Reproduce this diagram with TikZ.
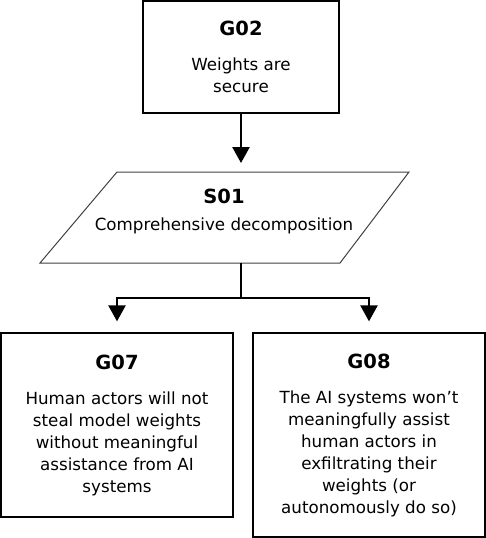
\documentclass[tikz,border=0pt]{standalone}
\usepackage{fontspec}
\setmainfont{DejaVu Sans}
\usetikzlibrary{arrows.meta}
\tikzset{
  goalbox/.style={draw=black, line width=1.3pt, align=center, inner sep=0pt,
    font=\fontsize{16.7}{22}\selectfont},
  conn/.style={draw=black, line width=2.5pt},
  arr/.style={conn, -{Triangle[length=16pt,width=17pt]}},
  strat/.style={draw=black!75, line width=1pt},
}
\newcommand{\gtitle}[1]{{\fontsize{19.5}{22}\selectfont\bfseries #1}}
\begin{document}
\begin{tikzpicture}[x=1pt,y=-1pt]
\useasboundingbox (0,0) rectangle (486,538);
\node[goalbox, minimum width=196pt, minimum height=112pt] (g02) at (241,57)
  {\gtitle{G02}\\[13pt]Weights are\\secure};
\node[align=center, inner sep=0pt, font=\fontsize{16.7}{22}\selectfont] (s01) at (224,211)
  {\gtitle{S01}\\[5pt]Comprehensive decomposition};
\draw[strat] (117,172) coordinate (pa) -- (409,172) coordinate (pb)
  -- (340,263) coordinate (pc) -- (40,263) coordinate (pd) -- cycle;
\node[goalbox, minimum width=232pt, minimum height=184pt] (g07) at (117,425)
  {\gtitle{G07}\\[13pt]Human actors will not\\steal model weights\\without meaningful\\assistance from AI\\systems};
\node[goalbox, minimum width=232pt, minimum height=204pt] (g08) at (369,435)
  {\gtitle{G08}\\[13pt]The AI systems won’t\\meaningfully assist\\human actors in\\exfiltrating their\\weights (or\\autonomously do so)};
\coordinate (stop) at (241,172);
\coordinate (sbot) at (241,263);
\coordinate (split) at (241,298);
\draw[arr, shorten >=9pt] (g02.south) -- (stop);
\draw[conn] (sbot) -- (split);
\draw[arr, shorten >=11pt] (split) -| (g07.north);
\draw[arr, shorten >=11pt] (split) -| (g08.north);
\end{tikzpicture}
\end{document}
